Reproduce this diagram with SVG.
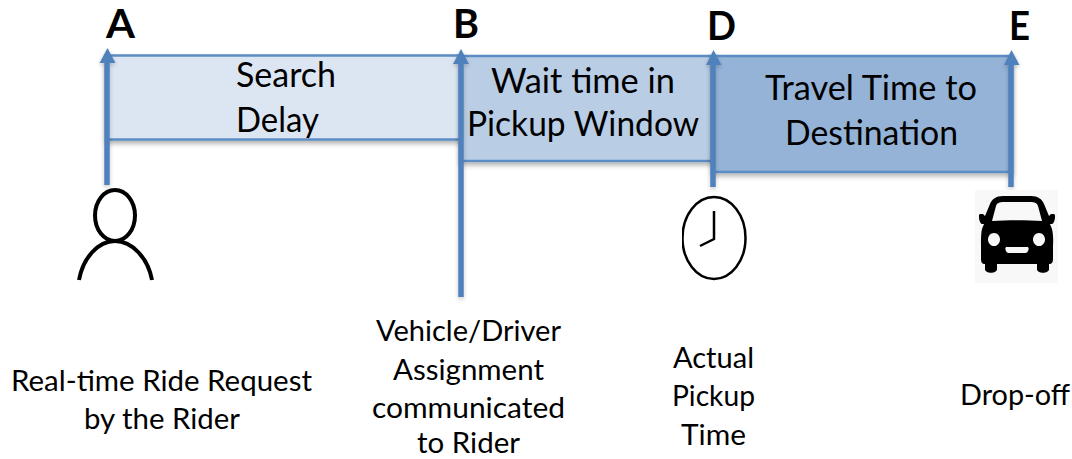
<svg xmlns="http://www.w3.org/2000/svg" width="1072" height="459" viewBox="0 0 1072 459">
<style>
text{font-family:Lato,"Open Sans","Liberation Sans",sans-serif;fill:#000}
.b{font-size:35px}
.l{font-size:28px}
.h{font-size:41px;font-weight:700}
.band{stroke:#5b8cc4;stroke-width:2.5}
.ax{stroke:#4f81bd;stroke-width:5.5;fill:none}
.head{fill:#4f81bd}
.ic{fill:none;stroke:#000;stroke-width:4}
</style>
<defs>
<filter id="sh" x="-5%" y="-10%" width="110%" height="125%"><feDropShadow dx="0" dy="3" stdDeviation="2.5" flood-color="#000" flood-opacity="0.3"/></filter>
<filter id="sa" x="-100%" y="-5%" width="300%" height="110%"><feDropShadow dx="0" dy="2" stdDeviation="2" flood-color="#000" flood-opacity="0.22"/></filter>
<clipPath id="cl"><rect x="682" y="190" width="70" height="95"/></clipPath>
</defs>
<g id="node-search">
<rect class="band" x="107" y="55.5" width="354" height="84" fill="#dce6f2" filter="url(#sh)"/>
<text class="b" x="236" y="87" textLength="100" lengthAdjust="spacingAndGlyphs">Search</text>
<text class="b" x="236" y="132" textLength="83" lengthAdjust="spacingAndGlyphs">Delay</text>
</g>
<g id="node-wait">
<rect class="band" x="461" y="56" width="252" height="105" fill="#b9cde5" filter="url(#sh)"/>
<text class="b" x="491" y="93" textLength="184" lengthAdjust="spacingAndGlyphs">Wait time in</text>
<text class="b" x="467" y="136" textLength="232" lengthAdjust="spacingAndGlyphs">Pickup Window</text>
</g>
<g id="node-travel">
<rect class="band" x="713" y="56" width="299" height="116" fill="#95b3d7" filter="url(#sh)"/>
<text class="b" x="765" y="100" textLength="212" lengthAdjust="spacingAndGlyphs">Travel Time to</text>
<text class="b" x="785" y="145" textLength="173" lengthAdjust="spacingAndGlyphs">Destination</text>
</g>
<g id="connectors">
<g filter="url(#sa)"><line class="ax" x1="107" y1="185" x2="107" y2="60"/><polygon class="head" points="107.500,48 99.500,63 115.500,63"/></g>
<g filter="url(#sa)"><line class="ax" x1="461" y1="297" x2="461" y2="60"/><polygon class="head" points="461,49 453,64 469,64"/></g>
<g filter="url(#sa)"><line class="ax" x1="713" y1="187" x2="713" y2="60"/><polygon class="head" points="713.500,50 706,65 721.500,65"/></g>
<g filter="url(#sa)"><line class="ax" x1="1011" y1="187" x2="1011" y2="60"/><polygon class="head" points="1011.500,50 1004,65 1019.500,65"/></g>
</g>
<g id="node-A">
<text class="h" x="106" y="38" textLength="29" lengthAdjust="spacingAndGlyphs">A</text>
<ellipse class="ic" cx="115" cy="215.500" rx="20" ry="25.500"/>
<path class="ic" d="M79 280C83 258 98 241 115 241C132 241 148 258 152 280"/>
<text class="l" x="11" y="391" textLength="301" lengthAdjust="spacingAndGlyphs">Real-time Ride Request</text>
<text class="l" x="84" y="429" textLength="156" lengthAdjust="spacingAndGlyphs">by the Rider</text>
</g>
<g id="node-B">
<text class="h" x="453" y="38" textLength="26" lengthAdjust="spacingAndGlyphs">B</text>
<text class="l" x="376" y="341" textLength="185" lengthAdjust="spacingAndGlyphs">Vehicle/Driver</text>
<text class="l" x="393" y="380" textLength="151" lengthAdjust="spacingAndGlyphs">Assignment</text>
<text class="l" x="372" y="418" textLength="193" lengthAdjust="spacingAndGlyphs">communicated</text>
<text class="l" x="417" y="453" textLength="103" lengthAdjust="spacingAndGlyphs">to Rider</text>
</g>
<g id="node-D">
<text class="h" x="707" y="40" textLength="29" lengthAdjust="spacingAndGlyphs">D</text>
<ellipse cx="714" cy="238" rx="31.500" ry="41" fill="none" stroke="#000" stroke-width="2.500" clip-path="url(#cl)"/>
<path d="M714 211V239L700 246" fill="none" stroke="#000" stroke-width="2.500"/>
<text class="l" x="673" y="368" textLength="81" lengthAdjust="spacingAndGlyphs">Actual</text>
<text class="l" x="672" y="406" textLength="83" lengthAdjust="spacingAndGlyphs">Pickup</text>
<text class="l" x="681" y="445" textLength="65" lengthAdjust="spacingAndGlyphs">Time</text>
</g>
<g id="node-E">
<text class="h" x="1009" y="40" textLength="21" lengthAdjust="spacingAndGlyphs">E</text>
<rect x="975" y="190" width="83" height="93" fill="#f8f8f8"/>
<path fill-rule="evenodd" d="M1003 196H1031C1038 196 1042 199 1044 204L1049 216L1051 214H1054C1056 214 1055 223 1052 224L1050 224L1052 229C1053 233 1053.500 240 1053 245V259C1053 262 1052 264 1049 264V269C1049 274 1037 274 1037 269V264H997V269C997 274 985 274 985 269V264C982 264 981 262 981 259V245C981 240 981 233 982 229L984 224L982 224C979 223 978 214 980 214H983L985 216L990 204C992 199 996 196 1003 196ZM1004 202C999 202 997 203 996 206L992 221C1007 220 1027 220 1042 221L1038 206C1037 203 1035 202 1030 202ZM994 233A6 6.500 0 1 0 994.010 233ZM1039 233A6 6.500 0 1 0 1039.010 233ZM1007 247C1005 247 1005 249 1006 251C1007 253 1008 253 1010 253H1024C1026 253 1027 253 1028 251C1029 249 1029 247 1027 247Z"/>
<text class="l" x="960" y="405" textLength="110" lengthAdjust="spacingAndGlyphs">Drop-off</text>
</g>
</svg>
